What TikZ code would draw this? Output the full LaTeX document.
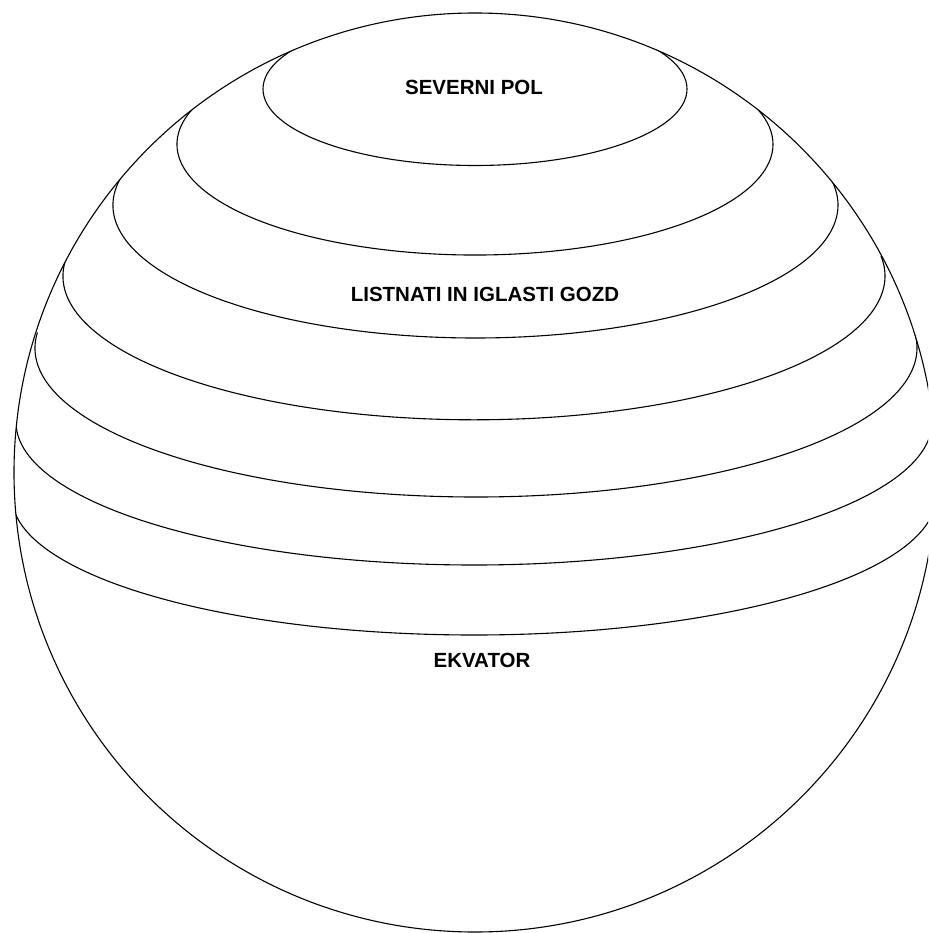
\documentclass[tikz,border=0pt]{standalone}
\usepackage{fontspec}
\setmainfont{Liberation Sans}
\tikzset{
  zone/.style={draw, line width=1.1pt},
  lbl/.style={font=\fontsize{20.5}{24}\selectfont\bfseries, inner sep=0pt},
}

\begin{document}
\begin{tikzpicture}[x=1pt, y=-1pt]
  \useasboundingbox (0,0) rectangle (928,933);
  \clip (0,0) rectangle (928,933);
  \coordinate (c) at (475,472.5);

  % pasovi
  \begin{scope}
    \clip (c) ellipse [x radius=461, y radius=459.5];
    \draw[zone] (475,89) ellipse [x radius=212, y radius=76.5];
    \foreach \cx/\cy/\rx/\ry/\a in {475/144.3/298/110.7/18, 475.5/205.1/362.5/132.9/12,
                                    474/276/411/143.8/8, 476/348/441/149/6,
                                    474/422/458/143/5, 474/496.7/462/138.3/5}
      \draw[zone] (\cx,\cy) ++({\rx*cos(180+\a)},{\ry*sin(180+\a)})
        arc[start angle=180+\a, end angle=-\a, x radius=\rx, y radius=\ry];
  \end{scope}

  % zemlja
  \draw[zone] (c) ellipse [x radius=461, y radius=459.5];

  \node[lbl] (pol) at (474,87) {SEVERNI POL};
  \node[lbl] (gozd) at (485,294) {LISTNATI IN IGLASTI GOZD};
  \node[lbl] (ekv) at (482,660) {EKVATOR};
\end{tikzpicture}
\end{document}
